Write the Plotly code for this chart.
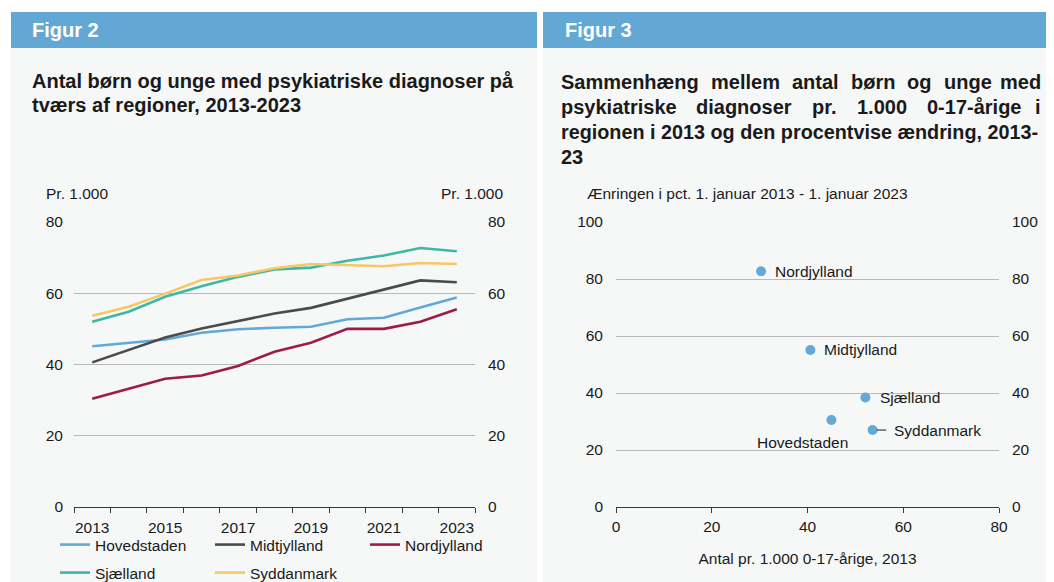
import plotly.graph_objects as go

# data
years = list(range(2013, 2024))
regions = ['Hovedstaden', 'Midtjylland', 'Nordjylland', 'Sjælland', 'Syddanmark']
hovedstaden = [45.1, 46.0, 47.0, 48.9, 49.9, 50.3, 50.6, 52.7, 53.1, 56.0, 58.8]
midtjylland = [40.6, 44.0, 47.6, 50.1, 52.3, 54.3, 55.9, 58.5, 60.9, 63.6, 63.1]
nordjylland = [30.4, 33.2, 36.0, 36.9, 39.6, 43.6, 46.1, 50.0, 50.0, 52.0, 55.5]
sjaelland = [52.0, 54.8, 59.0, 62.0, 64.6, 66.7, 67.2, 69.1, 70.6, 72.7, 71.8]
syddanmark = [53.7, 56.2, 59.9, 63.7, 65.0, 67.0, 68.2, 67.8, 67.6, 68.5, 68.2]

# figur 3: rate per 1.000 in 2013 and pct change 2013-2023
rate_2013 = [45.0, 40.6, 30.3, 52.1, 53.6]
pct_change = [30.5, 55.1, 82.7, 38.4, 27.0]

left_ticks = [0, 20, 40, 60, 80]
right_ticks = [0, 20, 40, 60, 80, 100]
x2_ticks = [0, 20, 40, 60, 80]

# the page body keeps its 8px margin; the figure starts there and runs to the window edge
OFF = 8
W, H = 1054 - OFF, 582 - OFF
FONT = 'Liberation Sans, Arial, sans-serif'
line_colors = ['#62a9d8', '#4b4b4d', '#9c1c48', '#3db8a5', '#f6c767']
header_blue = '#63a8d4'
panel_bg = '#f6f8f8'
grid = '#b9b9b9'
axis_line = '#3a3a3a'


# positions below are given in window pixels
def px(x):
    return (x - OFF) / W


def py(y):
    return 1 - (y - OFF) / H


fig = go.Figure()

series = [hovedstaden, midtjylland, nordjylland, sjaelland, syddanmark]
for i, (name, vals, col) in enumerate(zip(regions, series, line_colors)):
    fig.add_trace(go.Scatter(x=years, y=vals, name=name, mode='lines',
                             line=dict(color=col, width=2.6),
                             legend='legend' if i < 3 else 'legend2',
                             xaxis='x', yaxis='y'))

fig.add_trace(go.Scatter(x=rate_2013, y=pct_change, mode='markers', showlegend=False,
                         marker=dict(color='#62a9d8', size=10),
                         xaxis='x2', yaxis='y3'))

# empty traces so the right-hand mirror axes get drawn
fig.add_trace(go.Scatter(x=[], y=[], showlegend=False, xaxis='x', yaxis='y2'))
fig.add_trace(go.Scatter(x=[], y=[], showlegend=False, xaxis='x2', yaxis='y4'))

tickfont = dict(family=FONT, size=15.5, color='#1a1a1a')
ydom = [py(507), py(222)]
legfont = dict(family=FONT, size=15.5, color='#1a1a1a')

fig.update_layout(
    width=W, height=H,
    margin=dict(l=0, r=0, t=0, b=0, autoexpand=False),
    paper_bgcolor='white',
    plot_bgcolor='rgba(0,0,0,0)',
    font=dict(family=FONT, size=15.5, color='#1a1a1a'),
    xaxis=dict(domain=[px(74), px(475)], anchor='y', range=[2012.5, 2023.5],
               tickvals=years[::2], ticks='', showgrid=False, zeroline=False,
               showline=True, linecolor=axis_line, linewidth=1,
               tickfont=tickfont, ticklabelstandoff=6,
               minor=dict(tickvals=[y - 0.5 for y in years] + [2023.5],
                          ticks='outside', ticklen=5, tickcolor=axis_line,
                          showgrid=False)),
    yaxis=dict(domain=ydom, anchor='x', range=[0, 80], tickvals=left_ticks,
               showgrid=True, gridcolor=grid, gridwidth=1, zeroline=False,
               ticks='', tickfont=tickfont, ticklabelstandoff=10),
    yaxis2=dict(overlaying='y', side='right', anchor='x', range=[0, 80],
                tickvals=left_ticks, showgrid=False, zeroline=False, ticks='',
                tickfont=tickfont, ticklabelstandoff=12),
    xaxis2=dict(domain=[px(616), px(999)], anchor='y3', range=[0, 80],
                tickvals=x2_ticks, ticks='outside', ticklen=5, tickcolor=axis_line,
                showgrid=False, zeroline=False, showline=True,
                linecolor=axis_line, linewidth=1, tickfont=tickfont,
                title=dict(text='Antal pr. 1.000 0-17-årige, 2013',
                           font=dict(family=FONT, size=15.5, color='#1a1a1a'),
                           standoff=19)),
    yaxis3=dict(domain=ydom, anchor='x2', range=[0, 100], tickvals=right_ticks,
                showgrid=True, gridcolor=grid, gridwidth=1, zeroline=False,
                ticks='', tickfont=tickfont, ticklabelstandoff=12),
    yaxis4=dict(overlaying='y3', side='right', anchor='x2', range=[0, 100],
                tickvals=right_ticks, showgrid=False, zeroline=False, ticks='',
                tickfont=tickfont, ticklabelstandoff=12),
    legend=dict(orientation='h', x=px(55), y=py(528), xanchor='left', yanchor='top',
                entrywidth=110, entrywidthmode='pixels', traceorder='normal',
                bgcolor='rgba(0,0,0,0)', font=legfont, itemwidth=30),
    legend2=dict(orientation='h', x=px(55), y=py(556), xanchor='left', yanchor='top',
                 entrywidth=110, entrywidthmode='pixels', traceorder='normal',
                 bgcolor='rgba(0,0,0,0)', font=legfont, itemwidth=30),
)

# panels and header bars
shapes = []
for x0, x1 in [(11, 537), (543, 1054)]:
    shapes.append(dict(type='rect', xref='paper', yref='paper', x0=px(x0), x1=px(x1),
                       y0=py(582), y1=py(48), fillcolor=panel_bg, line_width=0, layer='below'))
    shapes.append(dict(type='rect', xref='paper', yref='paper', x0=px(x0), x1=px(x1),
                       y0=py(48), y1=py(12), fillcolor=header_blue, line_width=0, layer='below'))
fig.update_layout(shapes=shapes)


def note(text, x, y, size=15.5, bold=False, color='#1a1a1a', xanchor='left'):
    if bold:
        text = '<b>' + text + '</b>'
    fig.add_annotation(text=text, x=px(x), y=py(y), xref='paper', yref='paper',
                       xanchor=xanchor, yanchor='middle', showarrow=False,
                       font=dict(family=FONT, size=size, color=color))


note('Figur 2', 30, 30, size=20, bold=True, color='white')
note('Figur 3', 563, 30, size=20, bold=True, color='white')

note('Antal børn og unge med psykiatriske diagnoser på', 30, 81, size=20, bold=True)
note('tværs af regioner, 2013-2023', 30, 105, size=20, bold=True)

# justified title lines of figur 3, word by word (the last 8px of the window stay blank)
line1 = ['Sammenhæng', 'mellem', 'antal', 'børn', 'og', 'unge', 'med']
line1_x = [559, 709, 790, 849, 905, 942, 1043]
line2 = ['psykiatriske', 'diagnoser', 'pr.', '1.000', '0-17-årige', 'i']
line2_x = [559, 694, 810, 855, 925, 1043]
for words, xs, yy in [(line1, line1_x, 82), (line2, line2_x, 107)]:
    for i, (w, xx) in enumerate(zip(words, xs)):
        note(w, xx, yy, size=20, bold=True, xanchor='right' if i == len(words) - 1 else 'left')
note('regionen i 2013 og den procentvise ændring, 2013-', 559, 132, size=19.8, bold=True)
note('23', 559, 157, size=20, bold=True)

note('Pr. 1.000', 44, 193)
note('Pr. 1.000', 505, 193, xanchor='right')
note('Ænringen i pct. 1. januar 2013 - 1. januar 2023', 585, 193)

# point labels
label_pos = {'Hovedstaden': ('center', -29, 22, False),
             'Midtjylland': ('left', 12, 0, False),
             'Nordjylland': ('left', 12, 0, False),
             'Sjælland': ('left', 13, 0, False),
             'Syddanmark': ('left', 19, 0, True)}
for name, xv, yv in zip(regions, rate_2013, pct_change):
    anchor, dx, dy, leader = label_pos[name]
    fig.add_annotation(text=name, x=xv, y=yv, xref='x2', yref='y3',
                       xanchor=anchor, yanchor='middle', showarrow=False,
                       xshift=dx, yshift=-dy,
                       font=dict(family=FONT, size=15.5, color='#1a1a1a'))
    if leader:
        fig.add_annotation(text='', x=xv, y=yv, xref='x2', yref='y3', ax=15, ay=0,
                           showarrow=True, arrowhead=0, arrowwidth=1,
                           arrowcolor='#1a1a1a', standoff=4)

fig.write_html('out.html')
